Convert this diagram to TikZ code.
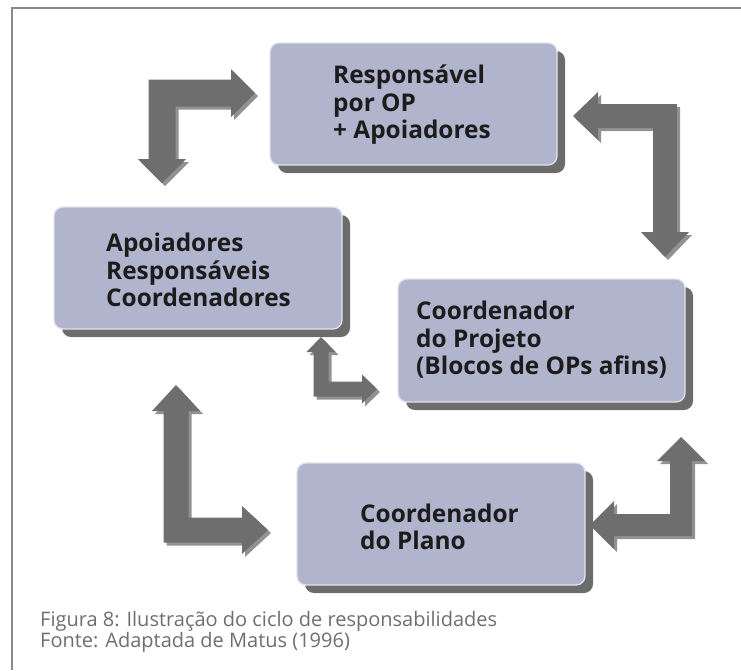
\documentclass[tikz,border=0pt]{standalone}
\usepackage{fontspec}
\newfontfamily\boxfont{Open Sans}
\newfontfamily\capfont{Open Sans}
\usetikzlibrary{shadows}
\definecolor{boxfill}{HTML}{B1B4CD}
\definecolor{boxshadow}{HTML}{6C6C6C}
\definecolor{arrowc}{HTML}{6E6E6E}
\definecolor{arrowsh}{HTML}{929292}
\definecolor{framec}{HTML}{8A8A8A}
\definecolor{captc}{HTML}{6E6E6E}
\definecolor{txtc}{HTML}{1C1C1C}
% cx cy hx vy sx sy w h L
\newcommand{\elbowpath}[9]{({#1-(#5)*#7},{#2-(#6)*#7}) -- ({#3-(#5)*#9},{#2-(#6)*#7}) -- ({#3-(#5)*#9},{#2-(#6)*#8}) -- (#3,#2) -- ({#3-(#5)*#9},{#2+(#6)*#8}) -- ({#3-(#5)*#9},{#2+(#6)*#7}) -- ({#1+(#5)*#7},{#2+(#6)*#7}) -- ({#1+(#5)*#7},{#4-(#6)*#9}) -- ({#1+(#5)*#8},{#4-(#6)*#9}) -- (#1,#4) -- ({#1-(#5)*#8},{#4-(#6)*#9}) -- ({#1-(#5)*#7},{#4-(#6)*#9}) -- cycle}
\newcommand{\elbow}[9]{%
  \fill[arrowsh, shift={(3,3)}] \elbowpath{#1}{#2}{#3}{#4}{#5}{#6}{#7}{#8}{#9};
  \fill[arrowc] \elbowpath{#1}{#2}{#3}{#4}{#5}{#6}{#7}{#8}{#9};}
\tikzset{
  box/.style={fill=boxfill, draw=white!60!boxfill, line width=1.3pt, rounded corners=9pt,
    inner sep=0pt, drop shadow={shadow xshift=8pt, shadow yshift=-8pt, opacity=1, fill=boxshadow}},
  boxtext/.style={anchor=west, align=left, text=txtc, font=\boxfont\bfseries\fontsize{24.4}{27.5}\selectfont, inner sep=0pt},
  captext/.style={anchor=west, align=left, text=captc, font=\capfont\fontsize{20}{21.5}\selectfont, inner sep=0pt}
}
\begin{document}
\begin{tikzpicture}[x=1pt, y=-1pt]
\useasboundingbox (0,0) rectangle (741,670);
\draw[framec, line width=2pt] (741,8) -- (12,8) -- (12,670);
% boxes
\node[box, minimum width=287pt, minimum height=122pt] (A) at (413.5,104) {};
\node[box, minimum width=288pt, minimum height=122pt] (B) at (198,268) {};
\node[box, minimum width=287pt, minimum height=123pt] (C) at (541.5,340.5) {};
\node[box, minimum width=288pt, minimum height=122pt] (D) at (441,524) {};
\node[boxtext] (At) at (333,105) {Responsável\\por OP\\+ Apoiadores};
\node[boxtext] (Bt) at (106,270) {Apoiadores\\Responsáveis\\Coordenadores};
\node[boxtext] (Ct) at (416,340) {Coordenador\\do Projeto\\(Blocos de OPs afins)};
\node[boxtext] (Dt) at (360,527) {Coordenador\\do Plano};
% arrows
\elbow{162}{93}{255}{183}{1}{1}{13.5}{24}{24}
\elbow{665}{116}{573}{257}{-1}{1}{12}{24}{25}
\elbow{321}{389}{377}{337}{1}{-1}{7.5}{14.5}{15}
\elbow{176}{530}{268}{385}{1}{-1}{12.5}{24}{26}
\elbow{681}{525}{590}{437}{-1}{-1}{11}{24}{24}
% caption
\node[captext] (cap) at (40,632) {Figura 8: Ilustração do ciclo de responsabilidades\\Fonte: Adaptada de Matus (1996)};
\end{tikzpicture}
\end{document}
